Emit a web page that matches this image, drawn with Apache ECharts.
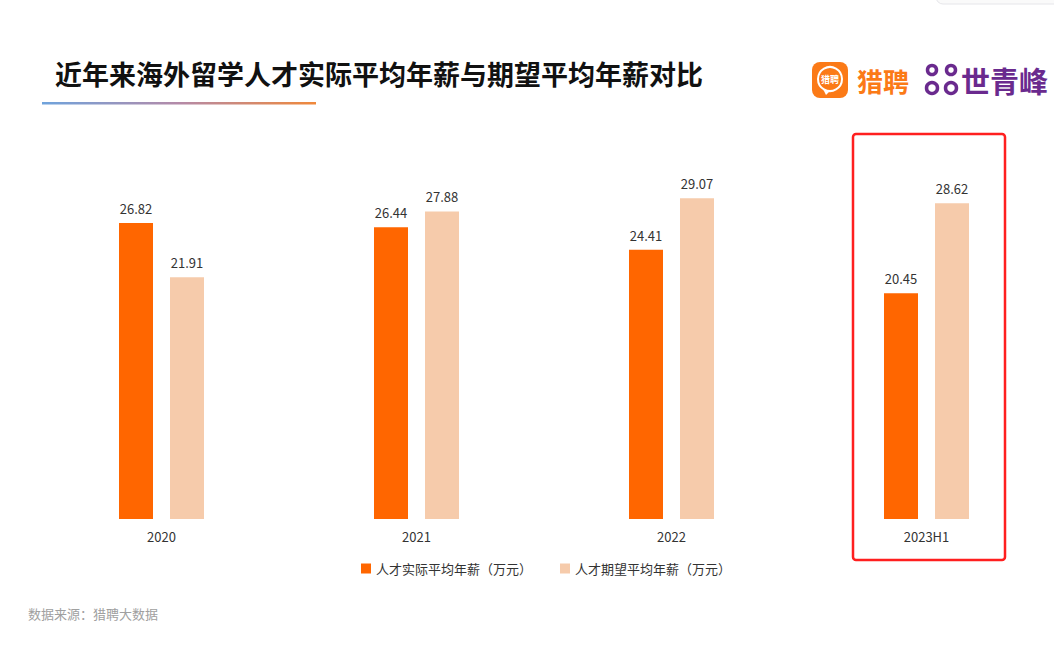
<!DOCTYPE html>
<html><head><meta charset="utf-8">
<script src="https://cdn.jsdelivr.net/npm/echarts@6/dist/echarts.min.js"></script>
<style>html,body{margin:0;padding:0;background:#fff}#c{width:1054px;height:658px}</style>
</head><body><div id="c"></div>
<script>
const categories = ['2020', '2021', '2022', '2023H1'];
const actualSalary = [26.82, 26.44, 24.41, 20.45];
const expectedSalary = [21.91, 27.88, 29.07, 28.62];
const seriesNames = ['人才实际平均年薪（万元）', '人才期望平均年薪（万元）'];
const titleText = '近年来海外留学人才实际平均年薪与期望平均年薪对比';
const sourceText = '数据来源：猎聘大数据';

const FONT = '"Noto Sans CJK SC", "Noto Sans", sans-serif';
const chart = echarts.init(document.getElementById('c'), null, {renderer: 'svg'});
const purple = '#6a2a8e';
chart.setOption({
  animation: false,
  backgroundColor: '#fff',
  textStyle: {fontFamily: FONT},
  title: {
    text: titleText, left: 50, top: 55,
    textStyle: {fontSize: 27, fontWeight: 'bold', color: '#111', fontFamily: FONT}
  },
  legend: {
    data: seriesNames, left: 356, top: 557, itemWidth: 10, itemHeight: 10, itemGap: 28,
    icon: 'rect',
    textStyle: {fontSize: 13, color: '#333', fontFamily: FONT}
  },
  grid: {left: 34, right: 0, top: 188, bottom: 139, containLabel: false},
  xAxis: {
    type: 'category', data: categories,
    axisLine: {show: false}, axisTick: {show: false},
    axisLabel: {fontSize: 13, color: '#333', margin: 11, fontFamily: FONT}
  },
  yAxis: {type: 'value', min: 0, max: 30, show: false, splitLine: {show: false}},
  series: [
    {name: seriesNames[0], type: 'bar', data: actualSalary, barWidth: 34, barGap: '50%',
     itemStyle: {color: '#ff6600'},
     label: {show: true, position: 'top', distance: 8, fontSize: 13, color: '#333', fontFamily: FONT}},
    {name: seriesNames[1], type: 'bar', data: expectedSalary, barWidth: 34,
     itemStyle: {color: '#f6cbab'},
     label: {show: true, position: 'top', distance: 8, fontSize: 13, color: '#333', fontFamily: FONT}}
  ],
  graphic: [
    {type: 'rect', shape: {x: 42, y: 102, width: 274, height: 2.5},
     style: {fill: new echarts.graphic.LinearGradient(0, 0, 1, 0, [
       {offset: 0, color: '#6fa3dc'}, {offset: 0.5, color: '#b48aa8'}, {offset: 1, color: '#f0883a'}])}},
    {type: 'rect', shape: {x: 853, y: 134, width: 152, height: 426, r: 3},
     style: {fill: 'none', stroke: '#ff1f1f', lineWidth: 2.5}},
    {type: 'rect', shape: {x: 936, y: -10, width: 130, height: 14, r: 8},
     style: {fill: '#fafafa', stroke: '#e6e6ea', lineWidth: 1}},
    // Liepin logo icon
    {type: 'rect', shape: {x: 812, y: 62, width: 36, height: 36, r: 8}, style: {fill: '#fb7a17'}},
    {type: 'circle', shape: {cx: 830, cy: 79, r: 12}, style: {fill: 'none', stroke: '#fff', lineWidth: 2}},
    {type: 'polygon', shape: {points: [[823, 89], [826, 95], [830, 91]]}, style: {fill: '#fff'}},
    {type: 'text', x: 830, y: 79, style: {text: '猎聘', fill: '#fff', fontSize: 9, fontWeight: 'bold',
      align: 'center', verticalAlign: 'middle', fontFamily: FONT}},
    {type: 'text', x: 857, y: 80, style: {text: '猎聘', fill: '#fb7a17', fontSize: 26, fontWeight: 'bold',
      align: 'left', verticalAlign: 'middle', fontFamily: FONT}},
    // Shiqingfeng symbol
    {type: 'circle', shape: {cx: 932, cy: 70, r: 4.5}, style: {stroke: purple, lineWidth: 3.5, fill: 'none'}},
    {type: 'circle', shape: {cx: 951, cy: 70, r: 4.5}, style: {stroke: purple, lineWidth: 3.5, fill: 'none'}},
    {type: 'circle', shape: {cx: 932, cy: 88, r: 5.5}, style: {stroke: purple, lineWidth: 3.5, fill: 'none'}},
    {type: 'circle', shape: {cx: 951, cy: 88, r: 5.5}, style: {stroke: purple, lineWidth: 3.5, fill: 'none'}},
    {type: 'text', x: 961, y: 80, style: {text: '世青峰', fill: purple, fontSize: 29, fontWeight: 'bold',
      align: 'left', verticalAlign: 'middle', fontFamily: FONT}},
    {type: 'text', x: 28, y: 613, style: {text: sourceText, fill: '#a0a0a0', fontSize: 13,
      align: 'left', verticalAlign: 'middle', fontFamily: FONT}}
  ]
});
</script></body></html>
